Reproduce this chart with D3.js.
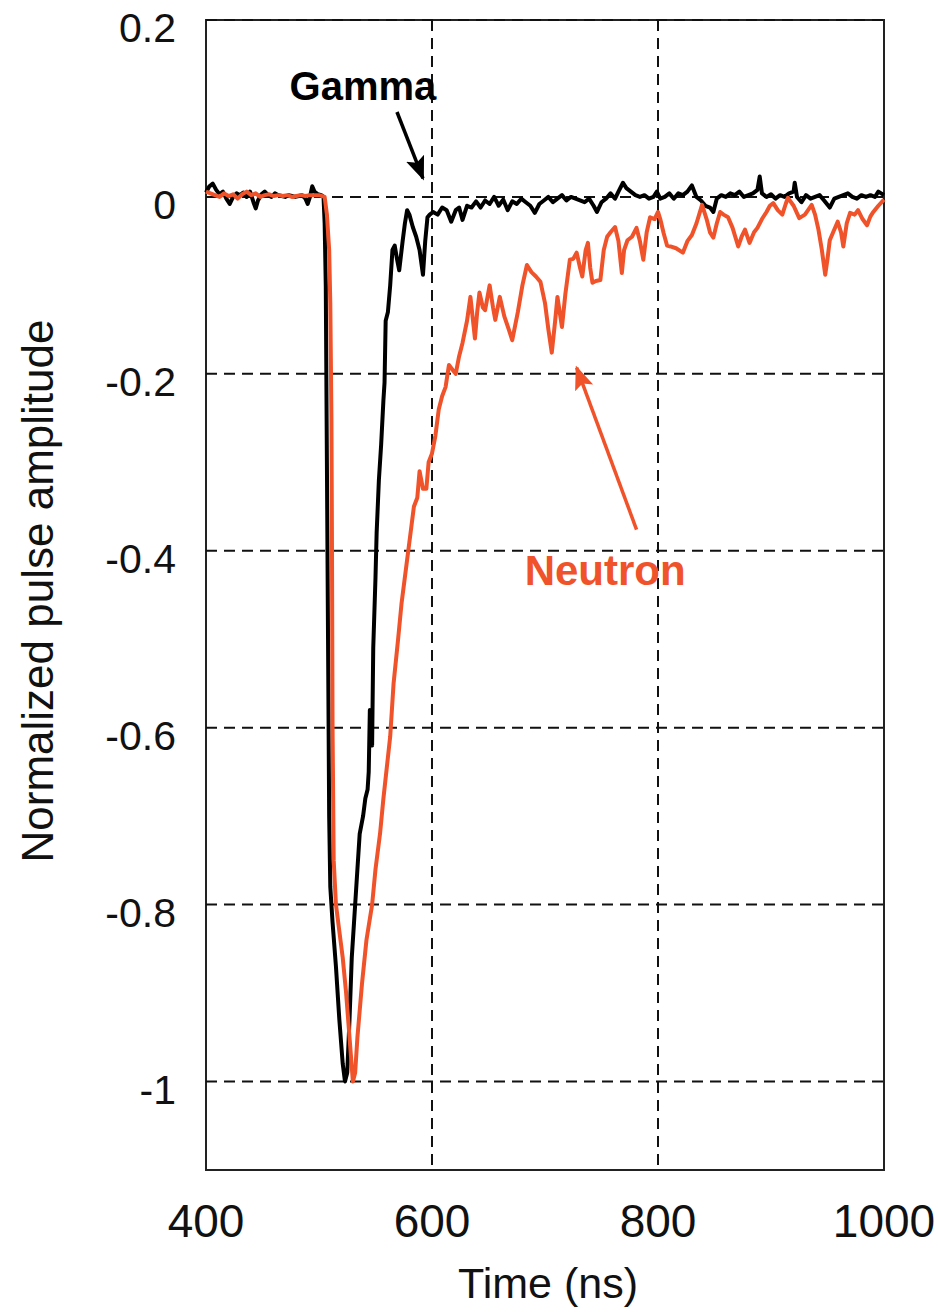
<!DOCTYPE html>
<html>
<head>
<meta charset="utf-8">
<script src="https://cdn.jsdelivr.net/npm/d3@7"></script>
<style>
  body { margin: 0; background: #fff; }
  svg { display: block; }
</style>
</head>
<body>
<svg id="chart"></svg>
<script>
// ---- data (time in ns, normalized amplitude) ----
const gammaPts = [
  [400,0.005],[403,0.012],[406,0.015],[409,0.008],[412,0.003],[415,0.006],[418,-0.002],[421,-0.008],
  [424,0.0],[427,0.004],[430,0.002],[433,0.005],[436,0.0],[439,0.006],[442,-0.006],[444,-0.013],
  [446,-0.004],[449,0.003],[452,0.006],[455,0.002],[458,0.0],[461,0.004],[464,0.002],[467,0.001],
  [470,0.0],[473,0.002],[476,0.001],[479,0.0],[482,0.001],[485,0.002],[488,-0.002],[490,-0.008],
  [492,0.0],[494,0.012],[496,0.006],[499,0.003],[502,0.002],[504,0.0],
  [505,-0.03],[506,-0.1],[507,-0.3],[508,-0.5],[509,-0.7],[510,-0.78],[512,-0.82],[515,-0.87],
  [518,-0.93],[521,-0.98],[523,-1.0],[525,-0.99],[527,-0.93],[529,-0.86],[531,-0.82],[532,-0.8],
  [534,-0.76],[536,-0.72],[539,-0.7],[541,-0.68],[543,-0.67],[544,-0.65],[545,-0.58],[546,-0.6],
  [547,-0.62],[548,-0.51],[550,-0.43],[551,-0.38],[553,-0.32],[555,-0.28],[557,-0.23],[558,-0.21],
  [559,-0.14],[561,-0.13],[563,-0.1],[565,-0.06],[567,-0.055],[569,-0.07],[571,-0.083],[574,-0.05],
  [576,-0.03],[578,-0.015],[580,-0.02],[583,-0.034],[586,-0.045],[589,-0.06],[592,-0.088],[594,-0.05],
  [596,-0.023],[598,-0.02],[601,-0.017],[605,-0.02],[609,-0.012],[613,-0.015],[617,-0.028],[621,-0.015],
  [624,-0.012],[627,-0.026],[631,-0.01],[635,-0.012],[639,-0.005],[643,-0.012],[647,-0.004],[651,-0.008],
  [655,0.0],[659,-0.01],[663,-0.003],[667,-0.015],[671,-0.005],[675,-0.008],[679,-0.002],[683,-0.006],
  [687,-0.01],[691,-0.018],[695,-0.008],[699,-0.004],[703,0.0],[707,-0.006],[711,-0.002],[715,0.002],
  [719,-0.004],[723,0.0],[727,-0.002],[731,-0.004],[735,-0.006],[739,-0.002],[743,-0.01],[746,-0.017],
  [750,-0.006],[754,-0.002],[758,0.004],[762,-0.002],[765,0.006],[769,0.016],[772,0.01],[776,0.006],
  [780,0.002],[784,0.0],[788,0.002],[792,-0.002],[796,0.0],[799,0.006],[802,-0.002],[806,0.0],
  [810,0.004],[814,-0.002],[818,0.004],[822,0.002],[826,0.006],[830,0.013],[834,0.0],[838,-0.004],
  [842,-0.01],[846,-0.012],[849,-0.017],[852,-0.002],[856,0.002],[860,0.0],[864,0.004],[868,0.002],
  [872,0.006],[876,0.0],[880,0.002],[884,0.004],[888,0.008],[890,0.023],[892,0.004],[896,0.0],
  [900,0.003],[904,-0.002],[908,0.002],[912,0.0],[916,0.004],[920,0.006],[921,0.016],[923,0.0],
  [927,-0.006],[931,0.002],[935,-0.002],[939,0.0],[943,0.002],[947,-0.004],[952,-0.012],[956,-0.002],
  [960,0.0],[964,0.002],[968,0.004],[972,0.0],[976,-0.002],[980,0.002],[984,0.0],[988,0.002],
  [992,0.0],[995,0.006],[1000,0.002]
];

const neutronPts = [
  [400,0.006],[404,0.004],[408,0.002],[412,0.0],[416,0.004],[420,0.001],[424,0.003],[428,-0.002],
  [432,0.003],[436,0.006],[440,0.002],[444,0.004],[448,0.0],[452,0.002],[456,0.003],[460,0.001],
  [464,0.002],[468,0.001],[472,0.002],[476,0.0],[480,0.001],[484,0.002],[488,0.001],[492,0.002],
  [496,0.002],[500,0.002],[505,0.0],
  [507,-0.02],[509,-0.06],[510,-0.12],[511,-0.25],[511.5,-0.4],[512,-0.6],[513,-0.75],[515,-0.8],
  [518,-0.83],[521,-0.86],[524,-0.9],[527,-0.95],[530,-1.0],[532,-0.99],[534,-0.95],[538,-0.89],
  [542,-0.84],[547,-0.8],[550,-0.76],[554,-0.72],[557,-0.68],[560,-0.645],[563,-0.61],[566,-0.55],
  [570,-0.5],[573,-0.46],[576,-0.43],[579,-0.4],[582,-0.37],[584,-0.35],[587,-0.34],[589,-0.31],
  [592,-0.33],[595,-0.33],[597,-0.3],[600,-0.29],[603,-0.27],[606,-0.24],[609,-0.225],[612,-0.215],
  [615,-0.19],[618,-0.195],[621,-0.2],[624,-0.18],[627,-0.165],[631,-0.14],[634,-0.113],[638,-0.16],
  [640,-0.13],[642,-0.108],[645,-0.125],[647,-0.128],[651,-0.1],[654,-0.125],[656,-0.139],[660,-0.113],
  [664,-0.135],[668,-0.15],[671,-0.162],[676,-0.13],[680,-0.1],[684,-0.077],[688,-0.085],[692,-0.09],
  [696,-0.096],[700,-0.12],[703,-0.15],[706,-0.176],[709,-0.14],[711,-0.113],[713,-0.13],[715,-0.147],
  [718,-0.11],[722,-0.071],[725,-0.07],[728,-0.063],[731,-0.08],[733,-0.09],[736,-0.06],[738,-0.052],
  [740,-0.08],[742,-0.097],[745,-0.095],[749,-0.094],[752,-0.06],[755,-0.045],[758,-0.04],[762,-0.034],
  [765,-0.05],[768,-0.086],[770,-0.06],[773,-0.049],[777,-0.045],[781,-0.035],[784,-0.05],[787,-0.071],
  [790,-0.04],[793,-0.023],[797,-0.025],[800,-0.017],[802,-0.025],[805,-0.041],[808,-0.055],[811,-0.056],
  [816,-0.058],[822,-0.063],[826,-0.05],[830,-0.043],[834,-0.03],[839,-0.009],[843,-0.025],[846,-0.04],
  [849,-0.046],[852,-0.03],[855,-0.017],[858,-0.02],[862,-0.023],[866,-0.035],[871,-0.056],[874,-0.045],
  [877,-0.037],[881,-0.052],[885,-0.04],[888,-0.035],[892,-0.025],[896,-0.017],[899,-0.01],[902,-0.007],
  [906,-0.015],[910,-0.02],[913,-0.008],[915,-0.001],[920,-0.01],[925,-0.024],[930,-0.02],[936,-0.009],
  [939,-0.02],[942,-0.037],[945,-0.06],[948,-0.088],[950,-0.07],[952,-0.049],[955,-0.04],[959,-0.028],
  [962,-0.04],[964,-0.056],[967,-0.03],[970,-0.018],[974,-0.02],[977,-0.015],[981,-0.025],[985,-0.032],
  [988,-0.022],[990,-0.018],[995,-0.01],[1000,-0.003]
];

const xTicks = [400, 600, 800, 1000];
const yTicks = [0.2, 0, -0.2, -0.4, -0.6, -0.8, -1];
const yTickLabels = ["0.2", "0", "-0.2", "-0.4", "-0.6", "-0.8", "-1"];

// annotations in data units
const gammaNote = {text: "Gamma", t: 474, v: 0.11, size: 40, from: [569, 0.096], to: [592, 0.021]};
const neutronNote = {text: "Neutron", t: 682, v: -0.439, size: 42, from: [781, -0.376], to: [728, -0.193]};

// ---- layout ----
const W = 938, H = 1315;
const orange = "#f0522a";
const font = "'Liberation Sans', Arial, sans-serif";

const svg = d3.select("#chart").attr("width", W).attr("height", H);

const x = d3.scaleLinear().domain([400, 1000]).range([206, 884]);
const y = d3.scaleLinear().domain([-1.1, 0.2]).range([1170, 20]);

// arrow markers
const defs = svg.append("defs");
[["arrBlack", "#000"], ["arrOrange", orange]].forEach(([id, c]) => {
    defs.append("marker")
        .attr("id", id)
        .attr("viewBox", "0 0 10 10")
        .attr("refX", 9).attr("refY", 5)
        .attr("markerWidth", 24).attr("markerHeight", 24)
        .attr("markerUnits", "userSpaceOnUse")
        .attr("orient", "auto")
        .append("path")
        .attr("d", "M0,1 L10,5 L0,9 L2,5 Z")
        .attr("fill", c);
});

// frame
svg.append("rect")
    .attr("x", x(400)).attr("y", y(0.2))
    .attr("width", x(1000) - x(400)).attr("height", y(-1.1) - y(0.2))
    .attr("fill", "none").attr("stroke", "#222").attr("stroke-width", 2);

// dashed grid
svg.append("g").selectAll("line").data(yTicks).join("line")
    .attr("x1", x(400)).attr("x2", x(1000))
    .attr("y1", d => y(d)).attr("y2", d => y(d))
    .attr("stroke", "#111").attr("stroke-width", 2)
    .attr("stroke-dasharray", "11,7");

svg.append("g").selectAll("line").data([600, 800]).join("line")
    .attr("x1", d => x(d)).attr("x2", d => x(d))
    .attr("y1", y(0.2)).attr("y2", y(-1.1))
    .attr("stroke", "#111").attr("stroke-width", 2)
    .attr("stroke-dasharray", "11,7");

// tick labels
svg.append("g").selectAll("text").data(yTicks).join("text")
    .attr("x", 176).attr("y", d => y(d) + 22)
    .attr("text-anchor", "end")
    .attr("font-family", font).attr("font-size", 41)
    .attr("fill", "#111")
    .text((d, i) => yTickLabels[i]);

svg.append("g").selectAll("text").data(xTicks).join("text")
    .attr("x", d => x(d)).attr("y", 1237)
    .attr("text-anchor", "middle")
    .attr("font-family", font).attr("font-size", 46)
    .attr("fill", "#111")
    .text(d => d);

// axis titles
svg.append("text")
    .attr("x", 548).attr("y", 1298)
    .attr("text-anchor", "middle")
    .attr("font-family", font).attr("font-size", 43)
    .attr("fill", "#111")
    .text("Time (ns)");

svg.append("text")
    .attr("transform", "translate(53,591) rotate(-90)")
    .attr("text-anchor", "middle")
    .attr("font-family", font).attr("font-size", 44)
    .attr("fill", "#111")
    .text("Normalized pulse amplitude");

// curves
const line = d3.line().x(d => x(d[0])).y(d => y(d[1]));

svg.append("path").datum(gammaPts)
    .attr("d", line)
    .attr("fill", "none").attr("stroke", "#000")
    .attr("stroke-width", 4).attr("stroke-linejoin", "round");

svg.append("path").datum(neutronPts)
    .attr("d", line)
    .attr("fill", "none").attr("stroke", orange)
    .attr("stroke-width", 4).attr("stroke-linejoin", "round");

// annotations
[[gammaNote, "#000", "arrBlack"], [neutronNote, orange, "arrOrange"]].forEach(([n, c, m]) => {
    svg.append("line")
        .attr("x1", x(n.from[0])).attr("y1", y(n.from[1]))
        .attr("x2", x(n.to[0])).attr("y2", y(n.to[1]))
        .attr("stroke", c).attr("stroke-width", 3.5)
        .attr("marker-end", `url(#${m})`);
    svg.append("text")
        .attr("x", x(n.t)).attr("y", y(n.v))
        .attr("font-family", font).attr("font-weight", "bold")
        .attr("font-size", n.size)
        .attr("fill", c)
        .text(n.text);
});
</script>
</body>
</html>
